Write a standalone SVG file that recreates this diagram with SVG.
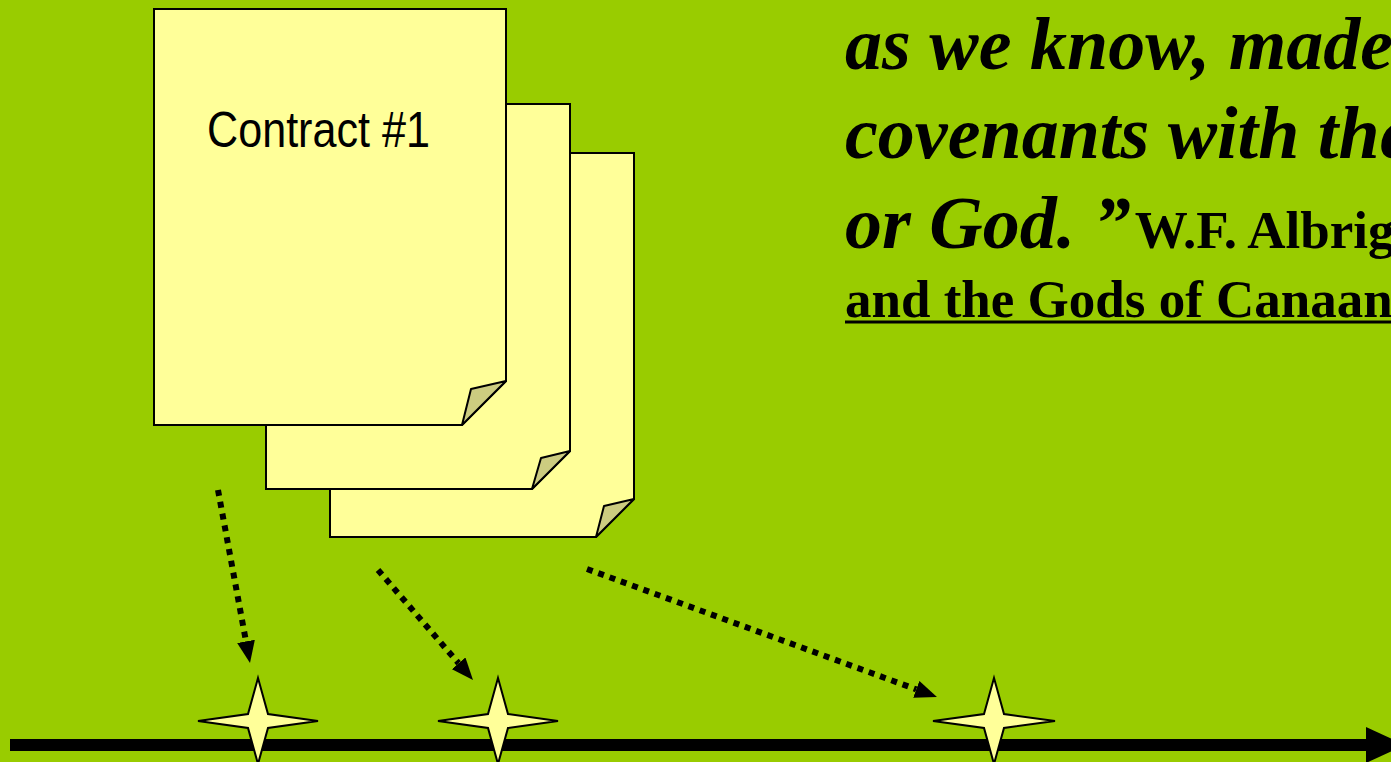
<svg xmlns="http://www.w3.org/2000/svg" width="1391" height="762" viewBox="0 0 1391 762">
<style>
.doc{fill:#FFFF99;stroke:#000;stroke-width:2;stroke-linejoin:miter}
.fold{fill:#CCCC80;stroke:#000;stroke-width:2;stroke-linejoin:round}
.star{fill:#FFFF99;stroke:#000;stroke-width:2}
.dots{fill:none;stroke:#000;stroke-width:6;stroke-dasharray:6 6}
.quote{font-family:"Liberation Serif","Times New Roman",serif;font-weight:bold;font-style:italic;font-size:74px;fill:#000}
.cite{font-family:"Liberation Serif","Times New Roman",serif;font-weight:bold;font-size:53px;fill:#000}
.label{font-family:"Liberation Sans Narrow","Liberation Sans",Arial,sans-serif;font-size:50px;fill:#000}
</style>
<defs>
<marker id="head" viewBox="0 0 22 18" refX="0" refY="9" markerWidth="22" markerHeight="18" markerUnits="userSpaceOnUse" orient="auto">
<path d="M0,0 L22,9 L0,18 Z" fill="#000"/>
</marker>
</defs>
<rect x="0" y="0" width="1391" height="762" fill="#99CC00"/>

<g id="doc3">
<polygon class="doc" points="330,153 634,153 634,499 596,537 330,537"/>
<polygon class="fold" points="596,537 604,506 634,499"/>
</g>
<g id="doc2">
<polygon class="doc" points="266,104 570,104 570,451 532,489 266,489"/>
<polygon class="fold" points="532,489 541,458 570,451"/>
</g>
<g id="doc1">
<polygon class="doc" points="154,9 506,9 506,381 462,425 154,425"/>
<polygon class="fold" points="462,425 471,389 506,381"/>
<text class="label" x="207" y="147" textLength="223" lengthAdjust="spacingAndGlyphs">Contract #1</text>
</g>

<g id="timeline">
<line x1="10" y1="745" x2="1368" y2="745" stroke="#000" stroke-width="12"/>
<polygon points="1366,727 1405,745 1366,763" fill="#000"/>
</g>

<g id="star1">
<path class="star" d="M258,678 L268,714 L318,721 L268,728 L258,764 L248,728 L198,721 L248,714 Z"/>
</g>
<g id="star2">
<path class="star" d="M498,678 L508,714 L558,721 L508,728 L498,764 L488,728 L438,721 L488,714 Z"/>
</g>
<g id="star3">
<path class="star" d="M994,678 L1004,714 L1055,721 L1004,728 L994,764 L984,728 L933,721 L984,714 Z"/>
</g>

<g id="connectors">
<line class="dots" x1="218" y1="490" x2="246" y2="641.4" marker-end="url(#head)"/>
<line class="dots" x1="378" y1="570" x2="458.6" y2="663.3" marker-end="url(#head)"/>
<line class="dots" x1="587" y1="569" x2="916.3" y2="689.4" marker-end="url(#head)"/>
</g>

<g id="quote">
<text class="quote" x="845" y="69">as we know, made</text>
<text class="quote" x="845" y="158">covenants with the</text>
<text x="845" y="248"><tspan class="quote">or God. ”</tspan><tspan class="cite" dx="4">W.F. Albright</tspan></text>
<text class="cite" x="845" y="317">and the Gods of Canaan</text>
<line x1="845" y1="322" x2="1391" y2="322" stroke="#000" stroke-width="3"/>
</g>
</svg>
